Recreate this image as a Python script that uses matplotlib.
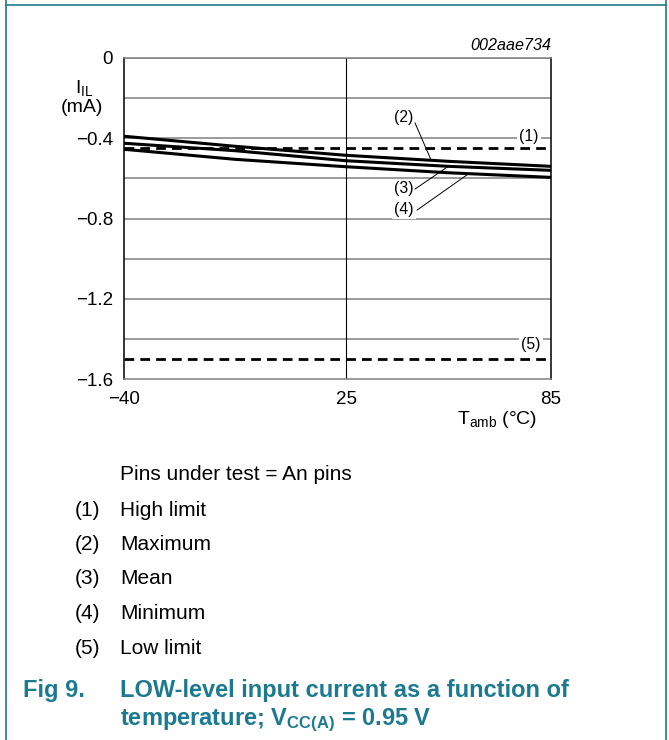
import numpy as np
import matplotlib
matplotlib.use("Agg")
import matplotlib.pyplot as plt
from matplotlib.lines import Line2D

plt.rcParams['font.family'] = ['Liberation Sans', 'DejaVu Sans']
plt.rcParams['mathtext.fontset'] = 'custom'
plt.rcParams['mathtext.rm'] = 'Liberation Sans'
plt.rcParams['mathtext.it'] = 'Liberation Sans:italic'
plt.rcParams['mathtext.bf'] = 'Liberation Sans:bold'
plt.rcParams['mathtext.default'] = 'regular'

# data (I_IL in mA vs T_amb in degC)
temp = [-40, -7.5, 25, 55, 85]
i_max = [-0.39, -0.44, -0.485, -0.515, -0.54]
i_mean = [-0.425, -0.462, -0.512, -0.54, -0.56]
i_min = [-0.455, -0.505, -0.542, -0.572, -0.595]
high_limit = -0.45
low_limit = -1.5

yticks = [0, -0.4, -0.8, -1.2, -1.6]
ytick_labels = ["0", "\u22120.4", "\u22120.8", "\u22121.2", "\u22121.6"]
xticks = [-40, 25, 85]
xtick_labels = ["\u221240", "25", "85"]

notes = ["High limit", "Maximum", "Mean", "Minimum", "Low limit"]

W, H = 669, 740
teal = "#1c7a90"
grey = "#808080"


def fx(px):
    return px / W


def fy(py):
    return 1 - py / H


fig = plt.figure(figsize=(W / 100, H / 100), dpi=100)
ax = fig.add_axes([fx(124), fy(379), 427 / W, 321 / H])

ax.set_xlim(-40, 85)
ax.set_ylim(-1.6, 0)

# horizontal grid every 0.2
for g in np.arange(-1.4, 0.01, 0.2):
    ax.axhline(g, color=grey, lw=1.1, zorder=1)
ax.axvline(25, color="black", lw=0.8, zorder=1)

for s in ["top", "bottom"]:
    ax.spines[s].set_color(grey)
    ax.spines[s].set_linewidth(1.1)
for s in ["left", "right"]:
    ax.spines[s].set_color("black")
    ax.spines[s].set_linewidth(1.1)

ax.plot(temp, i_max, color="black", lw=2.2, zorder=4)
ax.plot(temp, i_mean, color="black", lw=2.2, zorder=4)
ax.plot(temp, i_min, color="black", lw=2.2, zorder=4)
ax.axhline(high_limit, color="black", lw=2.0, dashes=(3.5, 2.2), zorder=4)
ax.axhline(low_limit, color="black", lw=2.0, dashes=(3.5, 2.2), zorder=4)

ax.set_yticks(yticks)
ax.set_yticklabels(ytick_labels)
ax.set_xticks(xticks)
ax.set_xticklabels(xtick_labels)
ax.tick_params(length=0, labelsize=13.5)
ax.tick_params(axis="y", pad=8)
ax.tick_params(axis="x", pad=9)

# curve labels; white box breaks the grid line behind them
box = dict(facecolor="white", edgecolor="none", pad=1.5)
lab = dict(fontsize=11.3, ha="center", va="center", zorder=3, bbox=box)
ax.text(78.6, -0.39, "(1)", **lab)
ax.text(79.2, -1.43, "(5)", **lab)
ax.text(42.0, -0.295, "(2)", **lab)
ax.text(42.0, -0.65, "(3)", **lab)
ax.text(42.0, -0.755, "(4)", **lab)
ax.plot([45.2, 49.9], [-0.324, -0.509], color="black", lw=0.7, zorder=5)
ax.plot([45.2, 54.6], [-0.653, -0.544], color="black", lw=0.7, zorder=5)
ax.plot([45.8, 60.7], [-0.758, -0.579], color="black", lw=0.7, zorder=5)

# axis titles
fig.text(fx(84), fy(88), "I$_{IL}$", fontsize=14, ha="center", va="center")
fig.text(fx(82), fy(107), "(mA)", fontsize=14, ha="center", va="center")
fig.text(fx(537), fy(420), "T$_{amb}$ (\u00b0C)", fontsize=14, ha="right", va="center")
fig.text(fx(551), fy(46), "002aae734", fontsize=11.6, style="italic", ha="right", va="center")

# notes under the chart
fig.text(fx(120), fy(475), "Pins under test = An pins", fontsize=15, va="center")
for k, name in enumerate(notes):
    y = 510 + k * 34.5
    fig.text(fx(75), fy(y), "(%d)" % (k + 1), fontsize=15, va="center")
    fig.text(fx(120), fy(y), name, fontsize=15, va="center")

fig.text(fx(23), fy(690), "Fig 9.", fontsize=17, weight="bold", color=teal, va="center")
fig.text(fx(120), fy(690), "LOW-level input current as a function of",
         fontsize=17, weight="bold", color=teal, va="center")
fig.text(fx(120), fy(720), "temperature; V$_{\\mathbf{CC(A)}}$ = 0.95 V",
         fontsize=17, weight="bold", color=teal, va="center")

# page frame
fig.add_artist(Line2D([fx(6), fx(6)], [0, 1], color=teal, lw=1.2))
fig.add_artist(Line2D([fx(666), fx(666)], [0, 1], color=teal, lw=1.2))
fig.add_artist(Line2D([fx(6), fx(666)], [fy(5), fy(5)], color=teal, lw=1.2))

fig.savefig("out.png", dpi=100)
